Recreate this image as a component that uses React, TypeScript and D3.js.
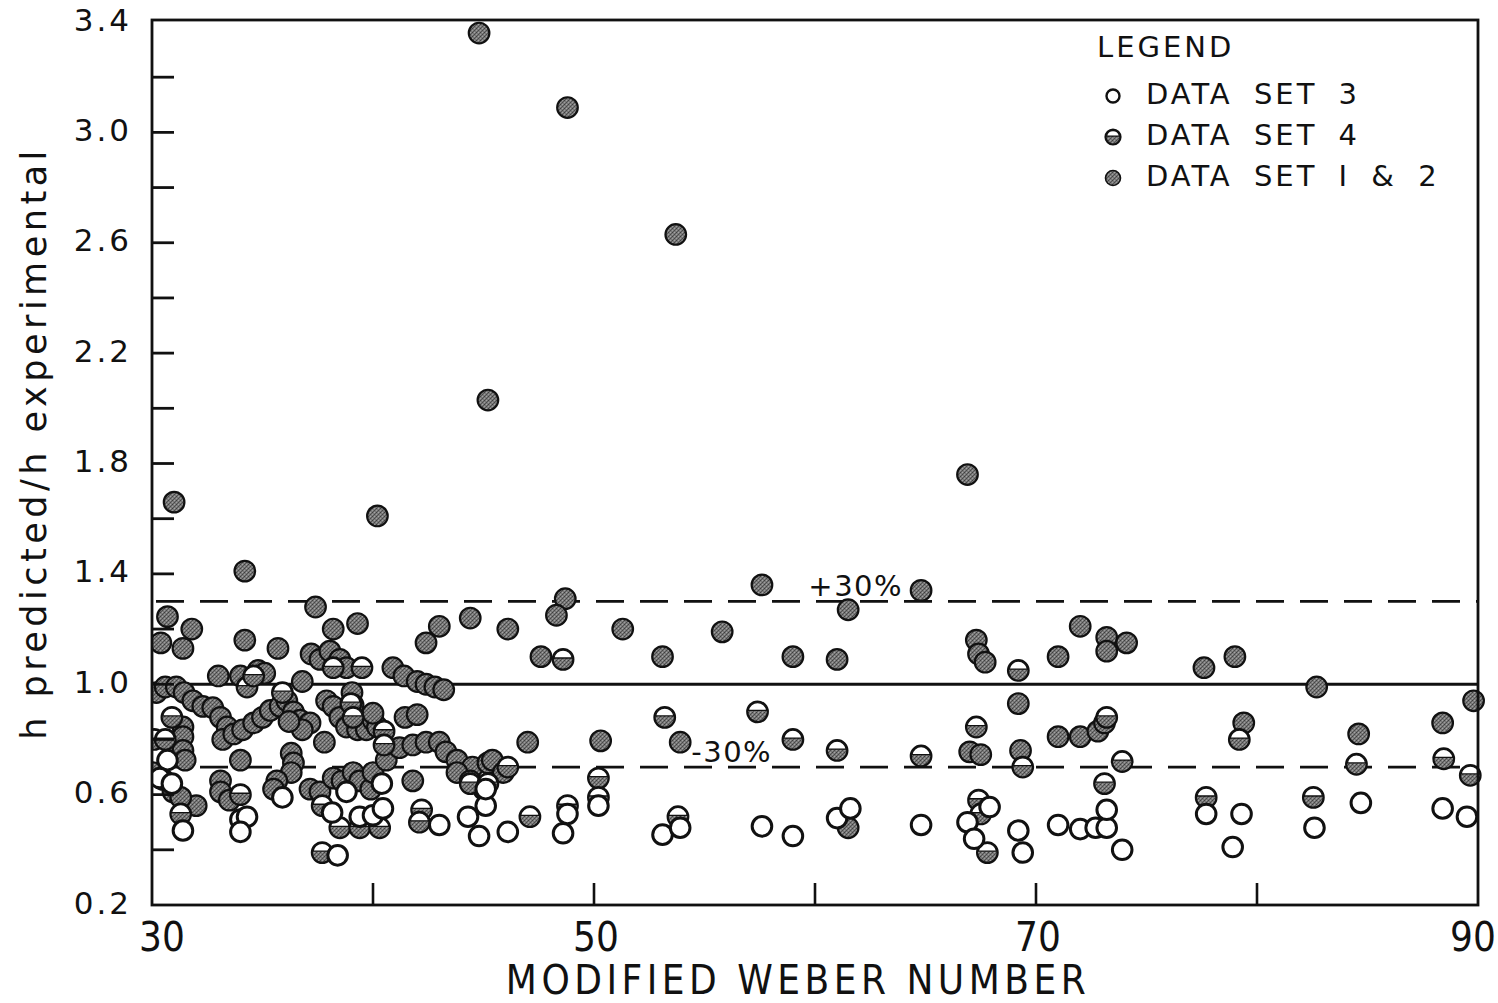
import React from 'react';
import * as d3 from 'd3';

// ---- chart data ----
// Modified Weber number vs. ratio h predicted / h experimental

// Data set 3 (open circles)
const SET3: [number, number][] = [
  [45.1, 0.56], [44.8, 0.45], [46.1, 0.465], [48.6, 0.46], [48.8, 0.53], [50.2, 0.56],
  [53.1, 0.455], [53.9, 0.48], [57.6, 0.485], [59.0, 0.45], [61.0, 0.515], [61.6, 0.55],
  [64.8, 0.49], [67.9, 0.555], [66.9, 0.5], [67.2, 0.44], [69.2, 0.47], [69.4, 0.39],
  [71.0, 0.49], [72.0, 0.475], [72.7, 0.48], [73.2, 0.48], [73.2, 0.545], [73.9, 0.4],
  [77.7, 0.53], [79.3, 0.53], [78.9, 0.41], [82.6, 0.48], [84.7, 0.57], [88.4, 0.55],
  [89.5, 0.52],
  [30.7, 0.725], [30.35, 0.66], [30.9, 0.64], [31.4, 0.47], [34.0, 0.51], [34.3, 0.52],
  [34.0, 0.465], [35.9, 0.59], [38.15, 0.535], [38.8, 0.61], [39.4, 0.52], [40.0, 0.525],
  [40.45, 0.55], [43.0, 0.49], [44.3, 0.52], [38.4, 0.38], [45.1, 0.62], [40.4, 0.64],
];

// Data set 4 (shaded circles with a white cap)
const SET4: [number, number][] = [
  [48.6, 1.09], [53.2, 0.88], [57.4, 0.9], [59.0, 0.8], [61.0, 0.76], [64.8, 0.74],
  [50.2, 0.66], [50.2, 0.59], [47.1, 0.52], [48.8, 0.56], [53.8, 0.52],
  [67.3, 0.845], [69.4, 0.7], [73.9, 0.72], [73.1, 0.64], [79.2, 0.8], [84.5, 0.71],
  [88.45, 0.73], [89.65, 0.67], [69.2, 1.05], [67.4, 0.58], [67.5, 0.53], [67.8, 0.39],
  [77.7, 0.59], [82.55, 0.59], [73.2, 0.88],
  [37.7, 0.56], [38.5, 0.48], [39.4, 0.48], [40.3, 0.48], [42.2, 0.545], [42.1, 0.5],
  [31.3, 0.53], [34.0, 0.6], [37.7, 0.39], [30.1, 0.8], [30.6, 0.8], [30.9, 0.88],
  [35.9, 0.97], [34.3, 0.99], [34.6, 1.03], [38.2, 1.06], [39.5, 1.06], [39.0, 0.93],
  [39.1, 0.88], [40.5, 0.83], [40.5, 0.78], [46.1, 0.7], [44.4, 0.64], [45.2, 0.64],
];

// Data set 1 & 2 (shaded circles)
const SET12: [number, number][] = [
  [44.8, 3.36], [48.8, 3.09], [53.7, 2.63], [45.2, 2.03], [40.2, 1.61], [31.0, 1.66],
  [66.9, 1.76], [34.2, 1.41], [57.6, 1.36], [64.8, 1.34], [48.7, 1.31], [61.5, 1.27],
  [37.4, 1.28], [44.4, 1.24], [48.3, 1.25], [51.3, 1.2], [46.1, 1.2], [55.8, 1.19],
  [72.0, 1.21], [39.3, 1.22], [43.0, 1.21], [31.8, 1.2], [30.7, 1.245], [30.4, 1.15],
  [31.4, 1.13], [34.2, 1.16], [38.2, 1.2], [35.7, 1.13], [42.4, 1.15], [47.6, 1.1],
  [53.1, 1.1], [59.0, 1.1], [61.0, 1.09], [71.0, 1.1], [67.3, 1.16], [67.4, 1.11],
  [67.7, 1.08], [73.2, 1.17], [73.2, 1.12], [74.1, 1.15], [77.6, 1.06], [79.0, 1.1],
  [82.7, 0.99], [89.8, 0.94], [69.2, 0.93], [79.4, 0.86], [84.6, 0.82], [88.4, 0.86],
  [71.0, 0.81], [72.0, 0.81], [72.8, 0.83], [73.1, 0.86], [67.0, 0.755], [67.5, 0.745],
  [69.3, 0.76], [47.0, 0.79], [50.3, 0.795], [53.9, 0.79], [61.5, 0.48],
  // dense group, Weber number 30 - 46
  [33.0, 1.03], [34.0, 1.03], [34.8, 1.05], [35.1, 1.04], [36.8, 1.01], [37.2, 1.11],
  [37.6, 1.09], [38.05, 1.12], [38.5, 1.09], [38.8, 1.06], [40.9, 1.06], [41.4, 1.03],
  [42.0, 1.01], [42.4, 1.0], [42.8, 0.99], [43.2, 0.98],
  [30.2, 0.97], [30.6, 0.99], [31.1, 0.99], [31.45, 0.97], [31.85, 0.94], [32.3, 0.92],
  [32.75, 0.915], [33.1, 0.88], [33.4, 0.845], [33.2, 0.8], [33.7, 0.82], [34.1, 0.835],
  [34.6, 0.86], [35.0, 0.88], [35.35, 0.905], [35.8, 0.92], [36.1, 0.94], [36.4, 0.9],
  [36.7, 0.87], [37.15, 0.86], [36.8, 0.835], [36.2, 0.865], [37.9, 0.94], [38.2, 0.92],
  [38.5, 0.88], [38.8, 0.845], [39.3, 0.835], [39.7, 0.835], [40.0, 0.87], [40.2, 0.845],
  [39.05, 0.97], [39.1, 0.925], [40.0, 0.895], [41.45, 0.88], [42.0, 0.89], [37.8, 0.79],
  [31.4, 0.845], [31.4, 0.81], [31.4, 0.76], [31.5, 0.725], [34.0, 0.725],
  [36.3, 0.75], [36.4, 0.715], [36.3, 0.68], [35.65, 0.65], [35.5, 0.62],
  [33.1, 0.65], [33.1, 0.61], [33.5, 0.58], [32.0, 0.56],
  [30.05, 0.68], [30.5, 0.655], [30.95, 0.61], [31.3, 0.59],
  [37.15, 0.62], [37.6, 0.61], [38.2, 0.66], [38.6, 0.65], [39.1, 0.68], [39.4, 0.65],
  [39.9, 0.62], [40.0, 0.68], [40.6, 0.725], [41.2, 0.77], [41.8, 0.78], [42.4, 0.79],
  [43.0, 0.79], [43.3, 0.755], [43.8, 0.725], [41.8, 0.65], [44.5, 0.7], [43.8, 0.68],
  [44.4, 0.65], [45.0, 0.62], [45.2, 0.715], [45.4, 0.725], [45.9, 0.68],
];

const X_DOMAIN: [number, number] = [30, 90];
const Y_DOMAIN: [number, number] = [0.2, 3.4];
const X_MINOR_TICKS = [40, 50, 60, 70, 80];
const X_LABEL_TICKS = [30, 50, 70, 90];
const Y_TICKS = [0.4, 0.6, 0.8, 1.0, 1.2, 1.4, 1.6, 1.8, 2.0, 2.2, 2.4, 2.6, 2.8, 3.0, 3.2];
const Y_LABEL_TICKS = ['0.2', '0.6', '1.0', '1.4', '1.8', '2.2', '2.6', '3.0', '3.4'];
const PERFECT_AGREEMENT = 1.0;
const BANDS = [
  { value: 1.3, label: '+30%', at: 59.7 },
  { value: 0.7, label: '-30%', at: 54.4 },
];
const LEGEND_ITEMS = [
  { kind: 'open', label: 'DATA SET 3' },
  { kind: 'cap', label: 'DATA SET 4' },
  { kind: 'solid', label: 'DATA SET I & 2' },
];

const W = 1498;
const H = 1003;
const LEFT = 152;
const RIGHT = 1478;
const TOP = 22;
const BOTTOM = 905;
const R = 10.3;
const INK = '#111';
const FONT = '"DejaVu Sans", "Liberation Sans", sans-serif';
const NARROW = '"DejaVu Sans Condensed", "Liberation Sans Narrow", "DejaVu Sans", sans-serif';

function CapMarker({ cx, cy, r }: { cx: number; cy: number; r: number }) {
  const ri = r - 1;
  const h = ri * 0.15;
  const w = Math.sqrt(ri * ri - h * h);
  return (
    <g>
      <circle cx={cx} cy={cy} r={r} fill="url(#stipple)" stroke={INK} strokeWidth={2.2} />
      <path
        d={`M${cx - w},${cy - h} A${ri},${ri} 0 0 1 ${cx + w},${cy - h} Z`}
        fill="#fff"
        stroke={INK}
        strokeWidth={1.3}
      />
    </g>
  );
}

export default function App() {
  const x = d3.scaleLinear().domain(X_DOMAIN).range([LEFT, RIGHT]);
  const y = d3.scaleLinear().domain(Y_DOMAIN).range([BOTTOM, TOP]);

  return (
    <svg
      width={W}
      height={H}
      viewBox={`0 0 ${W} ${H}`}
      style={{ position: 'absolute', left: 0, top: 0, background: '#fff' }}
    >
      <defs>
        <pattern id="stipple" width="4" height="4" patternUnits="userSpaceOnUse">
          <rect width="4" height="4" fill="#787878" />
          <rect x="0" y="0" width="1" height="1" fill="#3e3e3e" />
          <rect x="2" y="2" width="1" height="1" fill="#484848" />
          <rect x="2" y="0" width="1" height="1" fill="#a4a4a4" />
          <rect x="0" y="2" width="1" height="1" fill="#9c9c9c" />
          <rect x="3" y="1" width="1" height="1" fill="#555" />
          <rect x="1" y="3" width="1" height="1" fill="#555" />
        </pattern>
        <clipPath id="plot">
          <rect x={LEFT} y={TOP - 4} width={RIGHT - LEFT + 12} height={BOTTOM - TOP + 4} />
        </clipPath>
      </defs>

      {/* reference lines */}
      <line
        x1={LEFT}
        x2={RIGHT}
        y1={y(PERFECT_AGREEMENT)}
        y2={y(PERFECT_AGREEMENT)}
        stroke={INK}
        strokeWidth={3}
      />
      {BANDS.map((b) => (
        <g key={b.label}>
          <line
            x1={LEFT}
            x2={RIGHT}
            y1={y(b.value)}
            y2={y(b.value)}
            stroke={INK}
            strokeWidth={2.8}
            strokeDasharray="28 16"
            strokeDashoffset={-4}
          />
          <text
            x={x(b.at)}
            y={y(b.value) - 13}
            fontFamily={FONT}
            fontSize={29}
            letterSpacing={1.5}
            dominantBaseline="middle"
            fill={INK}
          >
            {b.label}
          </text>
        </g>
      ))}

      {/* markers */}
      <g clipPath="url(#plot)">
        {SET12.map(([vx, vy], i) => (
          <circle
            key={`s12-${i}`}
            cx={x(vx)}
            cy={y(vy)}
            r={R}
            fill="url(#stipple)"
            stroke={INK}
            strokeWidth={2.2}
          />
        ))}
        {SET4.map(([vx, vy], i) => (
          <CapMarker key={`s4-${i}`} cx={x(vx)} cy={y(vy)} r={R} />
        ))}
        {SET3.map(([vx, vy], i) => (
          <circle
            key={`s3-${i}`}
            cx={x(vx)}
            cy={y(vy)}
            r={R - 0.5}
            fill="#fff"
            stroke={INK}
            strokeWidth={3}
          />
        ))}
      </g>

      {/* frame */}
      <rect
        x={LEFT}
        y={TOP - 2}
        width={RIGHT - LEFT}
        height={BOTTOM - TOP + 2}
        fill="none"
        stroke={INK}
        strokeWidth={2.8}
      />

      {/* y ticks */}
      {Y_TICKS.map((t) => (
        <line key={`yt-${t}`} x1={LEFT} x2={LEFT + 22} y1={y(t)} y2={y(t)} stroke={INK} strokeWidth={2.8} />
      ))}
      {Y_LABEL_TICKS.map((t) => (
        <text
          key={`yl-${t}`}
          x={LEFT - 20}
          y={y(+t)}
          textAnchor="end"
          dominantBaseline="middle"
          fontFamily={FONT}
          fontSize={31}
          letterSpacing={3}
          fill={INK}
        >
          {t}
        </text>
      ))}

      {/* x ticks */}
      {X_MINOR_TICKS.map((t) => (
        <line key={`xt-${t}`} x1={x(t)} x2={x(t)} y1={BOTTOM} y2={BOTTOM - 22} stroke={INK} strokeWidth={2.6} />
      ))}
      {X_LABEL_TICKS.map((t, i) => (
        <text
          key={`xl-${t}`}
          x={x(t) + (i === 0 ? 10 : i === X_LABEL_TICKS.length - 1 ? -5 : 2)}
          y={BOTTOM + 35}
          textAnchor="middle"
          dominantBaseline="middle"
          fontFamily={NARROW}
          fontSize={40}
          fill={INK}
        >
          {t}
        </text>
      ))}

      {/* axis titles */}
      <text
        x={(LEFT + RIGHT) / 2 - 17}
        y={983}
        textAnchor="middle"
        dominantBaseline="middle"
        fontFamily={NARROW}
        fontSize={40}
        letterSpacing={4.5}
        fill={INK}
      >
        MODIFIED WEBER NUMBER
      </text>
      <text
        transform={`translate(36, ${443}) rotate(-90)`}
        textAnchor="middle"
        dominantBaseline="middle"
        fontFamily={FONT}
        fontSize={35}
        letterSpacing={4.5}
        fill={INK}
      >
        h predicted/h experimental
      </text>

      {/* legend */}
      <g fontFamily={FONT} fill={INK}>
        <text x={1097} y={49} fontSize={29} letterSpacing={3} dominantBaseline="middle">
          LEGEND
        </text>
        {LEGEND_ITEMS.map((item, i) => {
          const cy = 96 + i * 41;
          const cx = 1113;
          return (
            <g key={item.label}>
              {item.kind === 'open' && (
                <circle cx={cx} cy={cy} r={6.5} fill="#fff" stroke={INK} strokeWidth={2.4} />
              )}
              {item.kind === 'cap' && <CapMarker cx={cx} cy={cy} r={7.5} />}
              {item.kind === 'solid' && (
                <circle cx={cx} cy={cy} r={7.5} fill="url(#stipple)" stroke={INK} strokeWidth={1.6} />
              )}
              <text
                x={1146}
                y={cy}
                fontSize={29}
                letterSpacing={3}
                wordSpacing={9}
                dominantBaseline="middle"
              >
                {item.label}
              </text>
            </g>
          );
        })}
      </g>
    </svg>
  );
}
